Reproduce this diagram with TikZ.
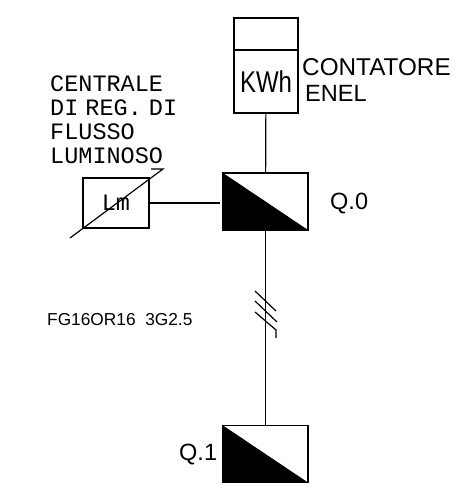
\documentclass[tikz,border=0pt]{standalone}
\usepackage{fontspec}
\setmainfont{Liberation Sans}
\newfontfamily\cadfont{Liberation Mono}
\usetikzlibrary{positioning}
\tikzset{
  wire/.style={line width=1.2pt},
  metbox/.style={draw, wire, minimum width=64pt, inner sep=0pt, outer sep=0pt},
  brk/.style={draw, wire, minimum width=85pt, minimum height=57pt, inner sep=0pt,
    path picture={\fill (path picture bounding box.north west) -- (path picture bounding box.south east) -- (path picture bounding box.south west) -- cycle;}},
  lbl/.style={inner sep=0pt, anchor=west, font=\fontsize{23.5}{24}\selectfont},
  cadlbl/.style={inner sep=0pt, font=\cadfont\fontsize{23.5}{24}\selectfont}
}
\begin{document}
\begin{tikzpicture}[x=1pt, y=-1pt]
\useasboundingbox (0,0) rectangle (473,494);
\node[metbox, minimum height=32pt] (T) at (266,34) {};
\node[metbox, minimum height=63pt, below=0pt of T,
  font=\fontsize{30}{30}\selectfont] (KWh) {\scalebox{.8}[1]{KWh}};
\node[brk] (Q0) at (265.5,201.5) {};
\node[brk] (Q1) at (265.5,454) {};
\node[draw, wire, minimum width=66pt, minimum height=50pt, cadlbl] (Lm) at (116,203) {Lm};
\draw[wire] (KWh) -- (Q0);
\draw[wire] (Q0) -- (Q1);
\coordinate (J) at (220,203);
\draw[wire] (Lm) -- (J);
\coordinate (S1) at (70,238);
\coordinate (S2) at (163,169);
\coordinate (S3) at (151,169);
\draw[wire] (S1) -- (S2) -- (S3);
\coordinate (A1) at (255,291); \coordinate (A2) at (276,311);
\coordinate (B1) at (255,301); \coordinate (B2) at (277,322);
\coordinate (C1) at (255,312); \coordinate (C2) at (276,330);
\coordinate (C3) at (276,338);
\draw[wire] (A1) -- (A2);
\draw[wire] (B1) -- (B2);
\draw[wire] (C1) -- (C2) -- (C3);
\node[lbl, font=\fontsize{24.3}{24}\selectfont] (contatore) at (302,67) {CONTATORE};
\node[lbl] (enel) at (305,93) {ENEL};
\node[lbl] (q0) at (330,204) {Q.0};
\node[lbl] (q1) at (179,455) {Q.1};
\node[lbl, font=\fontsize{17.3}{17}\selectfont] (cavo) at (47,320) {FG16OR16\ \ 3G2.5};
\node[cadlbl, anchor=west, align=left] (centrale) at (50,120) {CENTRALE\\DI\hspace{-7pt} REG.\hspace{-7pt} DI\\FLUSSO\\LUMINOSO};
\end{tikzpicture}
\end{document}
